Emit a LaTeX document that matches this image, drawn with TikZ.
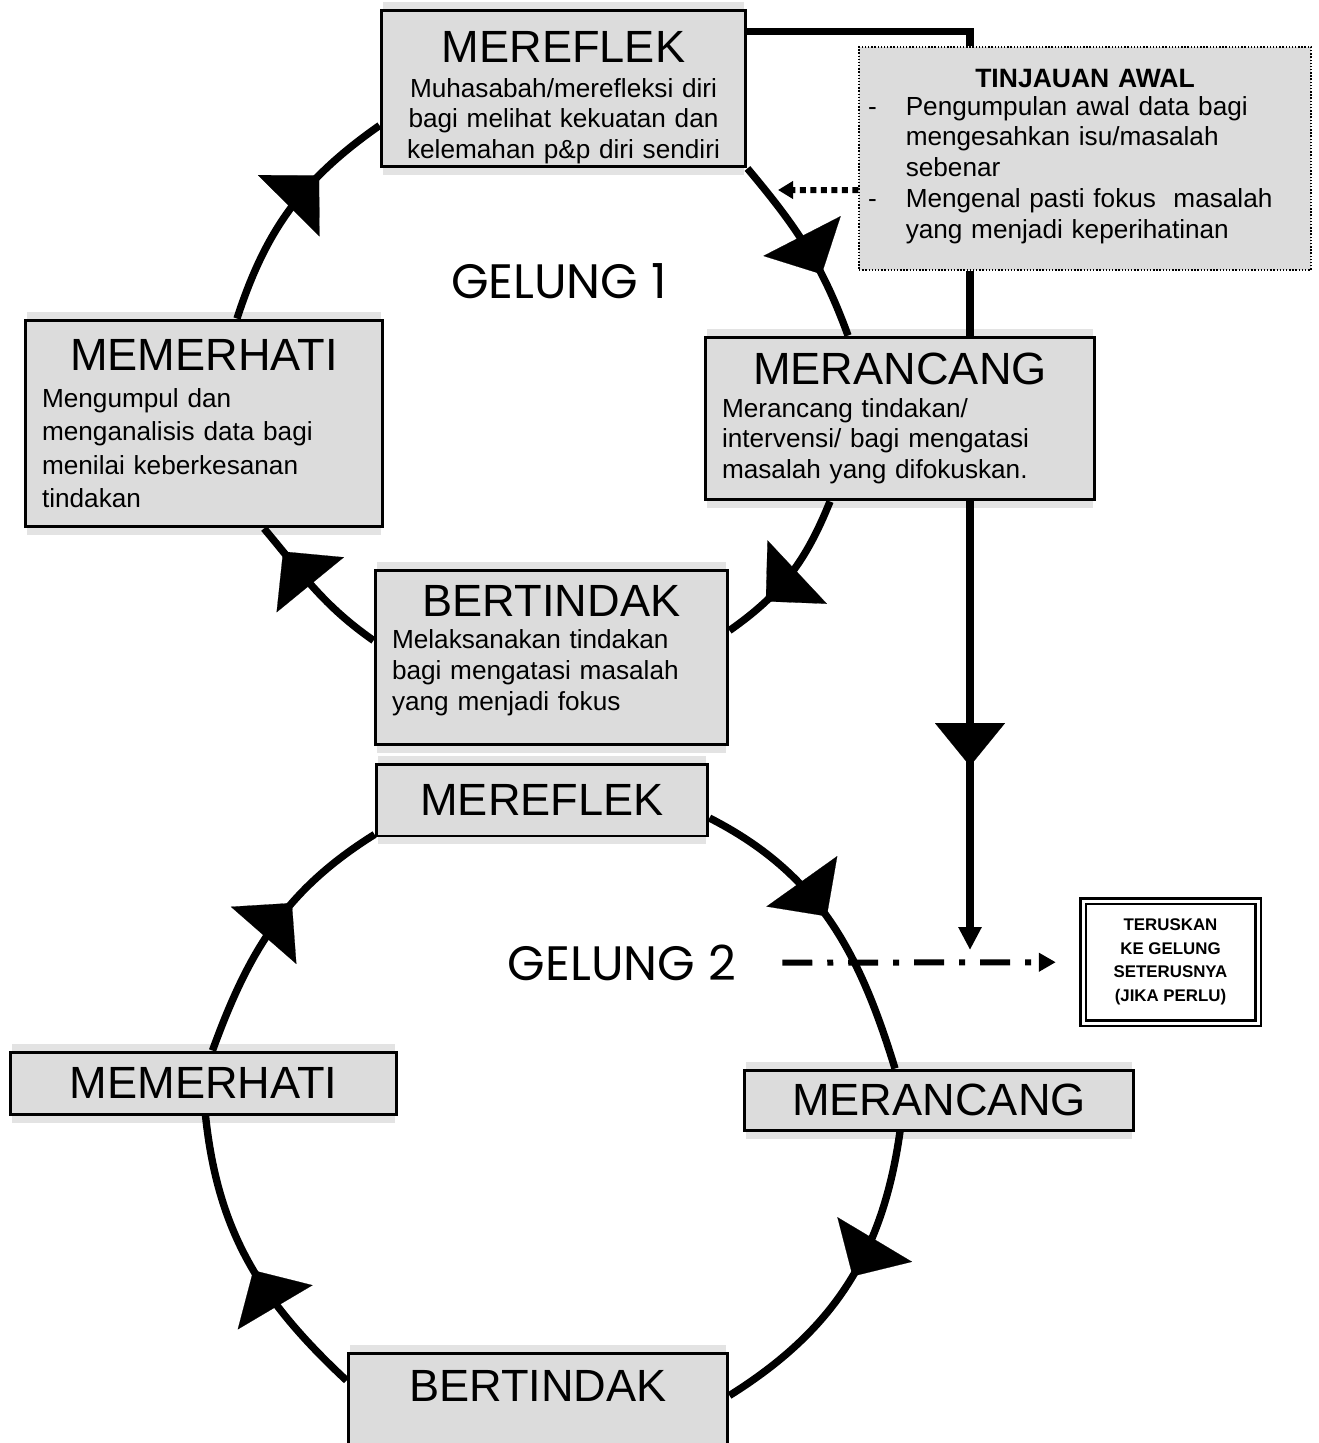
\documentclass[tikz,border=0pt]{standalone}
\usepackage{fontspec}
\setmainfont{Liberation Sans}
\newfontfamily\gelungfont{Poppins}
\usetikzlibrary{arrows.meta, calc, decorations.markings, backgrounds, positioning}
\definecolor{boxgray}{HTML}{DCDCDC}
\definecolor{shadegray}{HTML}{E3E3E3}
\newcommand\stagefont{\fontsize{25.7}{30}\selectfont}
\tikzset{every picture/.style={line join=miter},
  stage/.style={draw, line width=1.7pt, fill=boxgray, inner xsep=0.34cm, inner ysep=0pt, align=left, font=\fontsize{14.9}{17.5}\selectfont},
  tag/.style={stage, align=center, font=\stagefont}}

\begin{document}
\begin{tikzpicture}[x=0.02cm, y=0.02cm,
        cyc/.style={line width=4.2pt, postaction={decorate}, decoration={markings, mark=at position #1 with {\arrow[line width=0.1pt]{Triangle[length=0.86cm,width=1.74cm]}}}},
        flow/.style={line width=4pt},
        gelung/.style={font=\gelungfont\fontsize{27.5}{30}\selectfont}]
        \useasboundingbox (0,0) rectangle (1318,-1443);

        \node[stage, align=center, text width=6.62cm, minimum height=3.14cm] (r1) at (563.5,-88.5)
            {\rule{0pt}{1cm}{\stagefont MEREFLEK}\\[2pt] Muhasabah/merefleksi diri\\ bagi melihat kekuatan dan\\ kelemahan p\&p diri sendiri};
        \node[stage, text width=6.48cm, minimum height=4.14cm, font=\fontsize{14.9}{19}\selectfont] (o1) at (204,-423.5)
            {\makebox[\hsize]{\stagefont MEMERHATI}\\[2pt] Mengumpul dan\\ menganalisis data bagi\\ menilai keberkesanan\\ tindakan};
        \node[stage, text width=7.12cm, minimum height=3.26cm] (p1) at (900,-418.5)
            {\makebox[\hsize]{\stagefont MERANCANG}\\[1pt] Merancang tindakan/\\ intervensi/ bagi mengatasi\\ masalah yang difokuskan.};
        \node[stage, text width=6.38cm, minimum height=3.5cm] (b1) at (551.5,-657.5)
            {\makebox[\hsize]{\stagefont BERTINDAK}\\[1pt] Melaksanakan tindakan\\ bagi mengatasi masalah\\ yang menjadi fokus\rule[-0.4cm]{0pt}{0pt}};
        \node[draw, densely dotted, line width=0.8pt, fill=boxgray, inner xsep=0.18cm, inner ysep=0pt, text width=8.68cm, minimum height=4.46cm, align=left, font=\fontsize{14.9}{17.5}\selectfont] (tinj) at (1085,-158.5)
            {\makebox[\hsize]{\fontsize{15.1}{16}\selectfont\bfseries TINJAUAN AWAL}\\[-2pt]
            \begin{tabular}[t]{@{}l@{\hspace{0.58cm}}l@{}}
                - & Pengumpulan awal data bagi\\ & mengesahkan isu/masalah\\ & sebenar\\
                - & Mengenal pasti fokus\ \ masalah\\ & yang menjadi keperihatinan
            \end{tabular}};

        \node[tag, minimum width=6.64cm, minimum height=1.44cm] (r2) at (542,-800) {MEREFLEK};
        \node[tag, minimum width=7.74cm, minimum height=1.24cm] (o2) at (203.5,-1083) {MEMERHATI};
        \node[tag, minimum width=7.8cm, minimum height=1.2cm] (p2) at (939,-1100) {MERANCANG};
        \node[tag, minimum width=7.6cm, text height=0.96cm, text depth=1.18cm] (b2) at (538,-1406.5) {BERTINDAK};

        \node[gelung] (g1) at (559,-281) {GELUNG 1};
        \node[gelung] (g2) at (622,-963) {GELUNG 2};
        \node[draw, double, line width=0.05cm, double distance=0.06cm, minimum width=3.5cm, minimum height=2.44cm, align=center, font=\fontsize{9.6}{13.4}\selectfont\bfseries] (tks) at (1170.5,-962)
            {TERUSKAN\\ KE GELUNG\\ SETERUSNYA\\ (JIKA PERLU)};

        \begin{scope}[on background layer]
            \foreach \n in {r1,o1,p1,b1,r2,o2,p2,b2}
                \fill[shadegray] ($(\n.north west)+(3,7)$) rectangle ($(\n.south east)+(-3,-7)$);
        \end{scope}

        \coordinate (fx) at (970,0);
        \coordinate (join) at (970,-950);
        \coordinate (hit) at (778,-190);

        \draw
            (r1.south east) edge[cyc=0.66, out=-50, in=110] ($(p1.north)+(-52,0)$)
            ($(p1.south)+(-70,0)$) edge[cyc=0.72, out=-112, in=35] ($(b1.east)+(0,27)$)
            ($(b1.west)+(0,17)$) edge[cyc=0.81, out=145, in=-50] ($(o1.south)+(60,0)$)
            ($(o1.north)+(33,0)$) edge[cyc=0.68, out=72, in=-145] ($(r1.west)+(0,-37)$)
            ($(r2.east)+(0,-18)$) edge[cyc=0.48, out=-27, in=107] ($(p2.north)+(-44,0)$)
            ($(p2.south)+(-39,0)$) edge[cyc=0.47, out=-98, in=32] ($(b2.east)+(0,11)$)
            ($(b2.west)+(0,26)$) edge[cyc=0.47, out=137, in=-84] ($(o2.south)+(2,0)$)
            ($(o2.north)+(9,0)$) edge[cyc=0.61, out=70, in=-148] ($(r2.south west)+(0,3)$)
            ;

        \draw[flow] ($(r1.north east)+(0,-23)$) -| (fx |- tinj.north);
        \draw[flow] (fx |- tinj.south) -- (fx |- p1.north);
        \draw[flow, -{Triangle[length=0.46cm,width=0.44cm]}, postaction={decorate}, decoration={markings, mark=at position 0.59 with {\arrow[line width=0.1pt]{Triangle[length=0.86cm,width=1.4cm]}}}]
            (fx |- p1.south) -- (join);
        \draw[line width=0.12cm, dash pattern=on 0.12cm off 0.09cm, -{Triangle[length=0.3cm,width=0.34cm]}]
            ($(tinj.west)+(0,-31.5)$) -- (hit);
        \draw[line width=0.12cm, dash pattern=on 0.6cm off 0.3cm on 0.12cm off 0.3cm, -{Triangle[length=0.34cm,width=0.36cm]}, shorten <=0.8cm, shorten >=0.52cm]
            (g2) -- (tks);
    \end{tikzpicture}
\end{document}
